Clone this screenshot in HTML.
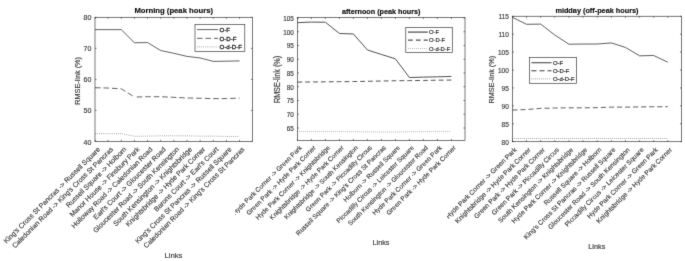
<!DOCTYPE html>
<html lang="en">
<head>
<meta charset="utf-8">
<title>RMSE-link per link: Morning, afternoon and midday</title>
<style>
html,body{margin:0;padding:0;background:#fff;}
body{width:685px;height:261px;overflow:hidden;}
svg{display:block;}
text{font-family:"Liberation Sans", Arial, Helvetica, sans-serif;fill:#333;stroke:#333;stroke-width:0.22px;}
.ttl{font-weight:bold;fill:#111;stroke:#111;stroke-width:0.18px;}
.r{stroke-width:0.14px;fill:#383838;stroke:#383838;}
.l{fill:#262626;stroke:#262626;}
.t{stroke-width:0.16px;fill:#3a3a3a;stroke:#3a3a3a;}
</style>
</head>
<body>
<svg width="685" height="261" viewBox="0 0 685 261">
<defs><filter id="soft" x="0" y="0" width="685" height="261" filterUnits="userSpaceOnUse" color-interpolation-filters="sRGB"><feConvolveMatrix order="3" kernelMatrix="0.0094 0.0780 0.0094 0.0780 0.6504 0.0780 0.0094 0.0780 0.0094" divisor="1" edgeMode="duplicate" preserveAlpha="true"/></filter></defs>
<g filter="url(#soft)">
<rect width="685" height="261" fill="#fff"/>
<g>
<text class="ttl" x="173.7" y="12.7" font-size="7.7" text-anchor="middle">Morning (peak hours)</text>
<polyline fill="none" stroke="#2a2a2a" stroke-width="0.74" points="95,29.62 108.14,29.62 121.28,29.62 134.42,42.74 147.56,42.59 160.7,50.5 173.84,53.29 186.98,56.39 200.12,57.94 213.26,61.36 226.4,61.2 239.54,60.89"/>
<polyline fill="none" stroke="#2a2a2a" stroke-width="0.74" stroke-dasharray="5.6 2.9" points="95,87.73 108.14,88.04 121.28,88.81 134.42,97.03"/>
<polyline fill="none" stroke="#2a2a2a" stroke-width="0.74" stroke-dasharray="5.6 2.9" stroke-dashoffset="6.2" points="134.42,97.03 147.56,96.72 160.7,96.72 173.84,97.34 186.98,97.97 200.12,98.28 213.26,98.59 226.4,98.59 239.54,98.12"/>
<polyline fill="none" stroke="#5a5a5a" stroke-width="0.74" stroke-dasharray="0.7 1.4" points="95,133.64 108.14,133.64 121.28,133.64 134.42,136.28 147.56,136.13 160.7,135.82 173.84,135.82 186.98,135.82 200.12,136.13 213.26,136.13 226.4,136.44 239.54,136.44"/>
<rect x="95" y="17.3" width="157.4" height="124.1" fill="none" stroke="#333" stroke-width="0.66"/>
<path d="M95 141.4v-1.5M95 17.3v1.5M108.14 141.4v-1.5M108.14 17.3v1.5M121.28 141.4v-1.5M121.28 17.3v1.5M134.42 141.4v-1.5M134.42 17.3v1.5M147.56 141.4v-1.5M147.56 17.3v1.5M160.7 141.4v-1.5M160.7 17.3v1.5M173.84 141.4v-1.5M173.84 17.3v1.5M186.98 141.4v-1.5M186.98 17.3v1.5M200.12 141.4v-1.5M200.12 17.3v1.5M213.26 141.4v-1.5M213.26 17.3v1.5M226.4 141.4v-1.5M226.4 17.3v1.5M239.54 141.4v-1.5M239.54 17.3v1.5M95 141.4h1.5M252.4 141.4h-1.5M95 110.38h1.5M252.4 110.38h-1.5M95 79.35h1.5M252.4 79.35h-1.5M95 48.33h1.5M252.4 48.33h-1.5M95 17.3h1.5M252.4 17.3h-1.5" fill="none" stroke="#333" stroke-width="0.66"/>
<text class="t" x="91.4" y="144.51" font-size="7" text-anchor="end">40</text>
<text class="t" x="91.4" y="113.48" font-size="7" text-anchor="end">50</text>
<text class="t" x="91.4" y="82.46" font-size="7" text-anchor="end">60</text>
<text class="t" x="91.4" y="51.43" font-size="7" text-anchor="end">70</text>
<text class="t" x="91.4" y="20.41" font-size="7" text-anchor="end">80</text>
<g>
<text class="r" transform="translate(96.3 145.55) rotate(-45)" x="0" y="6.02" font-size="7" text-anchor="end">King's Cross St Pancras -&gt; Russell Square</text>
<text class="r" transform="translate(109.44 145.55) rotate(-45)" x="0" y="6.02" font-size="7" text-anchor="end">Caledonian Road -&gt; King's Cross St Pancras</text>
<text class="r" transform="translate(122.58 145.55) rotate(-45)" x="0" y="6.02" font-size="7" text-anchor="end">Russell Square -&gt; Holborn</text>
<text class="r" transform="translate(135.72 145.55) rotate(-45)" x="0" y="6.02" font-size="7" text-anchor="end">Manor House -&gt; Finsbury Park</text>
<text class="r" transform="translate(148.86 145.55) rotate(-45)" x="0" y="6.02" font-size="7" text-anchor="end">Holloway Road -&gt; Caledonian Road</text>
<text class="r" transform="translate(162 145.55) rotate(-45)" x="0" y="6.02" font-size="7" text-anchor="end">Earl's Court -&gt; Gloucester Road</text>
<text class="r" transform="translate(175.14 145.55) rotate(-45)" x="0" y="6.02" font-size="7" text-anchor="end">Gloucester Road -&gt; South Kensington</text>
<text class="r" transform="translate(188.28 145.55) rotate(-45)" x="0" y="6.02" font-size="7" text-anchor="end">South Kensington -&gt; Knightsbridge</text>
<text class="r" transform="translate(201.42 145.55) rotate(-45)" x="0" y="6.02" font-size="7" text-anchor="end">Knightsbridge -&gt; Hyde Park Corner</text>
<text class="r" transform="translate(214.56 145.55) rotate(-45)" x="0" y="6.02" font-size="7" text-anchor="end">Barons Court -&gt; Earl's Court</text>
<text class="r" transform="translate(227.7 145.55) rotate(-45)" x="0" y="6.02" font-size="7" text-anchor="end">King's Cross St Pancras -&gt; Russell Square</text>
<text class="r" transform="translate(240.84 145.55) rotate(-45)" x="0" y="6.02" font-size="7" text-anchor="end">Caledonian Road -&gt; King's Cross St Pancras</text>
</g>
<text class="t" transform="translate(79.8 80.9) rotate(-90) scale(1 1)" font-size="7.3" text-anchor="middle">RMSE-link (%)</text>
<text class="t" x="173.5" y="257.6" font-size="7.7" text-anchor="middle">Links</text>
<rect x="195" y="24.4" width="49.8" height="27.1" fill="#fff" stroke="#333" stroke-width="0.66"/>
<path d="M197 29.6H218.2" fill="none" stroke="#2a2a2a" stroke-width="0.74"/>
<text class="l" style="stroke-width:0.3px" x="219.5" y="31.81" font-size="6.15">O-F</text>
<path d="M197 38.35H218.2" fill="none" stroke="#2a2a2a" stroke-width="0.74" stroke-dasharray="5.6 2.9"/>
<text class="l" style="stroke-width:0.3px" x="219.5" y="40.56" font-size="6.15">O-D-F</text>
<path d="M197 46.9H218.2" fill="none" stroke="#5a5a5a" stroke-width="0.74" stroke-dasharray="0.7 1.4"/>
<text class="l" style="stroke-width:0.3px" x="219.5" y="49.11" font-size="6.15">O-d-D-F</text>
</g>
<g>
<text class="ttl" x="381.2" y="13.9" font-size="7.22" text-anchor="middle">afternoon (peak hours)</text>
<polyline fill="none" stroke="#505050" stroke-width="1" points="297.4,22.68 311.4,22.05 325.4,22.24 339.4,33.43 353.4,33.98 367.4,49.95 381.4,54.45 395.4,58.82 409.4,77.52 423.4,77.11 437.4,76.84 451.4,76.43"/>
<polyline fill="none" stroke="#505050" stroke-width="1" stroke-dasharray="4.8 3.05" points="297.4,82.11 311.4,81.97 325.4,81.84 339.4,81.7 353.4,81.56 367.4,81.29 381.4,81.02 395.4,80.74 409.4,80.61 423.4,80.47 437.4,80.2 451.4,80.06"/>
<polyline fill="none" stroke="#999" stroke-width="1" stroke-dasharray="0.7 1.3" points="297.4,131.44 311.4,131.44 325.4,131.44 339.4,131.44 353.4,131.71 367.4,131.85 381.4,131.99 395.4,131.99 409.4,131.71 423.4,131.58 437.4,131.44 451.4,131.3"/>
<rect x="297.4" y="17.5" width="167.6" height="122.95" fill="none" stroke="#333" stroke-width="0.66"/>
<path d="M297.4 140.45v-1.5M297.4 17.5v1.5M311.4 140.45v-1.5M311.4 17.5v1.5M325.4 140.45v-1.5M325.4 17.5v1.5M339.4 140.45v-1.5M339.4 17.5v1.5M353.4 140.45v-1.5M353.4 17.5v1.5M367.4 140.45v-1.5M367.4 17.5v1.5M381.4 140.45v-1.5M381.4 17.5v1.5M395.4 140.45v-1.5M395.4 17.5v1.5M409.4 140.45v-1.5M409.4 17.5v1.5M423.4 140.45v-1.5M423.4 17.5v1.5M437.4 140.45v-1.5M437.4 17.5v1.5M451.4 140.45v-1.5M451.4 17.5v1.5M297.4 128h1.5M465 128h-1.5M297.4 114.25h1.5M465 114.25h-1.5M297.4 100.5h1.5M465 100.5h-1.5M297.4 86.75h1.5M465 86.75h-1.5M297.4 73h1.5M465 73h-1.5M297.4 59.25h1.5M465 59.25h-1.5M297.4 45.5h1.5M465 45.5h-1.5M297.4 31.75h1.5M465 31.75h-1.5M297.4 18h1.5M465 18h-1.5" fill="none" stroke="#333" stroke-width="0.66"/>
<text class="t" x="293.8" y="130.87" font-size="6.35" text-anchor="end">65</text>
<text class="t" x="293.8" y="117.12" font-size="6.35" text-anchor="end">70</text>
<text class="t" x="293.8" y="103.37" font-size="6.35" text-anchor="end">75</text>
<text class="t" x="293.8" y="89.62" font-size="6.35" text-anchor="end">80</text>
<text class="t" x="293.8" y="75.87" font-size="6.35" text-anchor="end">85</text>
<text class="t" x="293.8" y="62.12" font-size="6.35" text-anchor="end">90</text>
<text class="t" x="293.8" y="48.37" font-size="6.35" text-anchor="end">95</text>
<text class="t" x="293.8" y="34.62" font-size="6.35" text-anchor="end">100</text>
<text class="t" x="293.8" y="20.87" font-size="6.35" text-anchor="end">105</text>
<clipPath id="clip1"><rect x="235.3" y="0" width="700" height="261"/></clipPath>
<g clip-path="url(#clip1)">
<text class="r" transform="translate(298.4 144.2) rotate(-45)" x="0" y="5.62" font-size="6.54" text-anchor="end">Hyde Park Corner -&gt; Green Park</text>
<text class="r" transform="translate(312.4 144.2) rotate(-45)" x="0" y="5.62" font-size="6.54" text-anchor="end">Green Park -&gt; Hyde Park Corner</text>
<text class="r" transform="translate(326.4 144.2) rotate(-45)" x="0" y="5.62" font-size="6.54" text-anchor="end">Hyde Park Corner -&gt; Knightsbridge</text>
<text class="r" transform="translate(340.4 144.2) rotate(-45)" x="0" y="5.62" font-size="6.54" text-anchor="end">Knightsbridge -&gt; Hyde Park Corner</text>
<text class="r" transform="translate(354.4 144.2) rotate(-45)" x="0" y="5.62" font-size="6.54" text-anchor="end">Knightsbridge -&gt; South Kensington</text>
<text class="r" transform="translate(368.4 144.2) rotate(-45)" x="0" y="5.62" font-size="6.54" text-anchor="end">Green Park -&gt; Piccadilly Circus</text>
<text class="r" transform="translate(382.4 144.2) rotate(-45)" x="0" y="5.62" font-size="6.54" text-anchor="end">Russell Square -&gt; King's Cross St Pancras</text>
<text class="r" transform="translate(396.4 144.2) rotate(-45)" x="0" y="5.62" font-size="6.54" text-anchor="end">Holborn -&gt; Russell Square</text>
<text class="r" transform="translate(410.4 144.2) rotate(-45)" x="0" y="5.62" font-size="6.54" text-anchor="end">Piccadilly Circus -&gt; Leicester Square</text>
<text class="r" transform="translate(424.4 144.2) rotate(-45)" x="0" y="5.62" font-size="6.54" text-anchor="end">South Kensington -&gt; Gloucester Road</text>
<text class="r" transform="translate(438.4 144.2) rotate(-45)" x="0" y="5.62" font-size="6.54" text-anchor="end">Hyde Park Corner -&gt; Green Park</text>
<text class="r" transform="translate(452.4 144.2) rotate(-45)" x="0" y="5.62" font-size="6.54" text-anchor="end">Green Park -&gt; Hyde Park Corner</text>
</g>
<text class="t" transform="translate(279.9 79.5) rotate(-90) scale(1 1.2)" font-size="7.2" text-anchor="middle">RMSE-link (%)</text>
<text class="t" x="381" y="244.6" font-size="7.2" text-anchor="middle">Links</text>
<rect x="405.8" y="27.4" width="46.5" height="25.2" fill="#fff" stroke="#333" stroke-width="0.66"/>
<path d="M408 32.1H427.8" fill="none" stroke="#505050" stroke-width="1.25"/>
<text class="l" style="stroke-width:0.18px" x="428.9" y="34.21" font-size="5.85">O-F</text>
<path d="M408 40.1H427.8" fill="none" stroke="#505050" stroke-width="1.25" stroke-dasharray="4.8 3.05"/>
<text class="l" style="stroke-width:0.18px" x="428.9" y="42.21" font-size="5.85">O-D-F</text>
<path d="M408 48.5H427.8" fill="none" stroke="#999" stroke-width="1" stroke-dasharray="0.7 1.3"/>
<text class="l" style="stroke-width:0.18px" x="428.9" y="50.61" font-size="5.85">O-d-D-F</text>
</g>
<g>
<text class="ttl" x="596.95" y="12.65" font-size="7.3" text-anchor="middle">midday (off-peak hours)</text>
<polyline fill="none" stroke="#3a3a3a" stroke-width="0.82" points="512.4,17.33 526.53,24.28 540.66,24.14 554.79,35 568.92,44.21 583.05,44.06 597.18,44.03 611.31,42.92 625.44,47.43 639.57,55.82 653.7,55.5 667.83,62.24"/>
<polyline fill="none" stroke="#3a3a3a" stroke-width="0.82" stroke-dasharray="5.1 2.95" points="512.4,110.09 526.53,109.55 540.66,108.37 554.79,108.01 568.92,107.83 583.05,107.83 597.18,107.65 611.31,107.11 625.44,107.11 639.57,106.93 653.7,106.75 667.83,106.75"/>
<polyline fill="none" stroke="#666" stroke-width="0.82" stroke-dasharray="0.7 1.3" points="512.4,138.47 526.53,138.47 540.66,138.47 554.79,138.47 568.92,138.47 583.05,138.47 597.18,138.47 611.31,138.47 625.44,138.47 639.57,138.47 653.7,138.47 667.83,138.47"/>
<rect x="512.4" y="16.25" width="169.1" height="125.45" fill="none" stroke="#333" stroke-width="0.66"/>
<path d="M512.4 141.7v-1.5M512.4 16.25v1.5M526.53 141.7v-1.5M526.53 16.25v1.5M540.66 141.7v-1.5M540.66 16.25v1.5M554.79 141.7v-1.5M554.79 16.25v1.5M568.92 141.7v-1.5M568.92 16.25v1.5M583.05 141.7v-1.5M583.05 16.25v1.5M597.18 141.7v-1.5M597.18 16.25v1.5M611.31 141.7v-1.5M611.31 16.25v1.5M625.44 141.7v-1.5M625.44 16.25v1.5M639.57 141.7v-1.5M639.57 16.25v1.5M653.7 141.7v-1.5M653.7 16.25v1.5M667.83 141.7v-1.5M667.83 16.25v1.5M512.4 141.7h1.5M681.5 141.7h-1.5M512.4 123.78h1.5M681.5 123.78h-1.5M512.4 105.86h1.5M681.5 105.86h-1.5M512.4 87.94h1.5M681.5 87.94h-1.5M512.4 70.01h1.5M681.5 70.01h-1.5M512.4 52.09h1.5M681.5 52.09h-1.5M512.4 34.17h1.5M681.5 34.17h-1.5M512.4 16.25h1.5M681.5 16.25h-1.5" fill="none" stroke="#333" stroke-width="0.66"/>
<text class="t" x="508.8" y="144.63" font-size="6.5" text-anchor="end">80</text>
<text class="t" x="508.8" y="126.71" font-size="6.5" text-anchor="end">85</text>
<text class="t" x="508.8" y="108.78" font-size="6.5" text-anchor="end">90</text>
<text class="t" x="508.8" y="90.86" font-size="6.5" text-anchor="end">95</text>
<text class="t" x="508.8" y="72.94" font-size="6.5" text-anchor="end">100</text>
<text class="t" x="508.8" y="55.02" font-size="6.5" text-anchor="end">105</text>
<text class="t" x="508.8" y="37.1" font-size="6.5" text-anchor="end">110</text>
<text class="t" x="508.8" y="19.18" font-size="6.5" text-anchor="end">115</text>
<clipPath id="clip2"><rect x="447.2" y="0" width="700" height="261"/></clipPath>
<g clip-path="url(#clip2)">
<text class="r" transform="translate(513 146.2) rotate(-45)" x="0" y="5.73" font-size="6.66" text-anchor="end">Hyde Park Corner -&gt; Green Park</text>
<text class="r" transform="translate(527.13 146.2) rotate(-45)" x="0" y="5.73" font-size="6.66" text-anchor="end">Knightsbridge -&gt; Hyde Park Corner</text>
<text class="r" transform="translate(541.26 146.2) rotate(-45)" x="0" y="5.73" font-size="6.66" text-anchor="end">Green Park -&gt; Hyde Park Corner</text>
<text class="r" transform="translate(555.39 146.2) rotate(-45)" x="0" y="5.73" font-size="6.66" text-anchor="end">Green Park -&gt; Piccadilly Circus</text>
<text class="r" transform="translate(569.52 146.2) rotate(-45)" x="0" y="5.73" font-size="6.66" text-anchor="end">South Kensington -&gt; Knightsbridge</text>
<text class="r" transform="translate(583.65 146.2) rotate(-45)" x="0" y="5.73" font-size="6.66" text-anchor="end">Hyde Park Corner -&gt; Knightsbridge</text>
<text class="r" transform="translate(597.78 146.2) rotate(-45)" x="0" y="5.73" font-size="6.66" text-anchor="end">Russell Square -&gt; Holborn</text>
<text class="r" transform="translate(611.91 146.2) rotate(-45)" x="0" y="5.73" font-size="6.66" text-anchor="end">King's Cross St Pancras -&gt; Russell Square</text>
<text class="r" transform="translate(626.04 146.2) rotate(-45)" x="0" y="5.73" font-size="6.66" text-anchor="end">Gloucester Road -&gt; South Kensington</text>
<text class="r" transform="translate(640.17 146.2) rotate(-45)" x="0" y="5.73" font-size="6.66" text-anchor="end">Piccadilly Circus -&gt; Leicester Square</text>
<text class="r" transform="translate(654.3 146.2) rotate(-45)" x="0" y="5.73" font-size="6.66" text-anchor="end">Hyde Park Corner -&gt; Green Park</text>
<text class="r" transform="translate(668.43 146.2) rotate(-45)" x="0" y="5.73" font-size="6.66" text-anchor="end">Knightsbridge -&gt; Hyde Park Corner</text>
</g>
<text class="t" transform="translate(493.6 79.7) rotate(-90) scale(1 1.1)" font-size="7.3" text-anchor="middle">RMSE-link (%)</text>
<text class="t" x="596.8" y="248.7" font-size="7.3" text-anchor="middle">Links</text>
<rect x="529.4" y="57.65" width="47.2" height="25.65" fill="#fff" stroke="#333" stroke-width="0.66"/>
<path d="M531.4 62.75H551.5" fill="none" stroke="#3a3a3a" stroke-width="1"/>
<text class="l" style="stroke-width:0.2px" x="552.9" y="64.87" font-size="5.9">O-F</text>
<path d="M531.4 70.8H551.5" fill="none" stroke="#3a3a3a" stroke-width="1" stroke-dasharray="5.1 2.95"/>
<text class="l" style="stroke-width:0.2px" x="552.9" y="72.92" font-size="5.9">O-D-F</text>
<path d="M531.4 78.9H551.5" fill="none" stroke="#666" stroke-width="0.82" stroke-dasharray="0.7 1.3"/>
<text class="l" style="stroke-width:0.2px" x="552.9" y="81.02" font-size="5.9">O-d-D-F</text>
</g>
</g>
</svg>
</body>
</html>
